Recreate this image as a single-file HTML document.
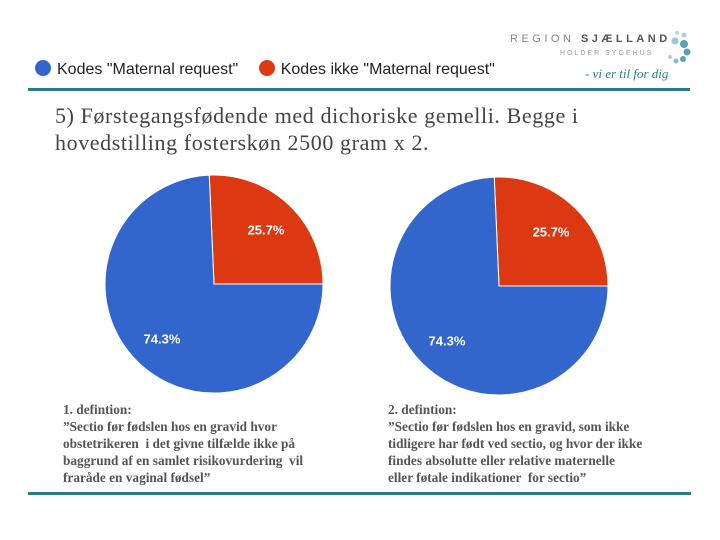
<!DOCTYPE html>
<html><head><meta charset="utf-8">
<style>
body{margin:0;width:720px;height:540px;background:#fff;overflow:hidden;position:relative;font-family:"Liberation Sans",sans-serif;}
.abs{position:absolute;}
.title{left:55px;top:102px;font-family:"Liberation Serif",serif;font-size:22px;letter-spacing:0.6px;line-height:27px;color:#444;white-space:nowrap;}
.def{font-family:"Liberation Serif",serif;font-weight:bold;font-size:13.3px;line-height:17px;color:#555;white-space:nowrap;}
</style></head><body>
<div class="abs" style="left:510px;top:30px;width:200px;height:60px;">
  <div style="position:absolute;left:0;top:3px;font-size:11px;letter-spacing:3.5px;color:#888;">REGION <b style="color:#555">SJÆLLAND</b></div>
  <div style="position:absolute;left:50px;top:20px;font-size:7px;letter-spacing:2px;color:#999;">HOLDER SYGEHUS</div>
  <div style="position:absolute;left:75px;top:36px;font-family:'Liberation Serif',serif;font-style:italic;font-size:13px;color:#2a7f8a;">- vi er til for dig</div>
  <svg style="position:absolute;left:155px;top:0" width="40" height="40"><g fill="#5aa0b8"><circle cx="12" cy="3" r="2" opacity=".4"/><circle cx="19" cy="5" r="2.5" opacity=".5"/><circle cx="10" cy="11" r="3.5" opacity=".6"/><circle cx="19" cy="14" r="4"/><circle cx="22" cy="22" r="3.5"/><circle cx="18" cy="29" r="3"/><circle cx="11" cy="31" r="2.5" opacity=".7"/><circle cx="5" cy="27" r="2" opacity=".5"/></g></svg>
</div>
<div class="abs" style="left:35px;top:60px;font-size:16px;color:#222;white-space:nowrap;">
  <span><span style="display:inline-block;width:16px;height:16px;border-radius:50%;background:#3366cc;vertical-align:-2px;margin-right:6px"></span>Kodes "Maternal request"</span>
  <span style="margin-left:16px"><span style="display:inline-block;width:16px;height:16px;border-radius:50%;background:#dc3912;vertical-align:-2px;margin-right:6px"></span>Kodes ikke "Maternal request"</span>
</div>
<div class="abs" style="left:28px;top:88px;width:662px;height:3px;background:#2a7a86"></div>
<div class="abs title">5) Førstegangsfødende med dichoriske gemelli. Begge i<br>hovedstilling fosterskøn 2500 gram x 2.</div>
<svg class="abs" style="left:0;top:0" width="720" height="540" id="charts"></svg>
<div class="abs def" style="left:63px;top:401px;">1. defintion:<br>”Sectio før fødslen hos en gravid hvor<br>obstetrikeren &nbsp;i det givne tilfælde ikke på<br>baggrund af en samlet risikovurdering &nbsp;vil<br>fraråde en vaginal fødsel”</div>
<div class="abs def" style="left:388px;top:401px;">2. defintion:<br>”Sectio før fødslen hos en gravid, som ikke<br>tidligere har født ved sectio, og hvor der ikke<br>findes absolutte eller relative maternelle<br>eller føtale indikationer &nbsp;for sectio”</div>
<div class="abs" style="left:28px;top:492px;width:663px;height:3px;background:#2a7a86"></div>
<script>
const categories = ["Kodes ikke \"Maternal request\"", "Kodes \"Maternal request\""];
const pie1Values = [25.7, 74.3];
const pie2Values = [25.7, 74.3];
const colors = ["#dc3912", "#3366cc"];
const startDeg = -2.5;
const pies = [{cx:214, cy:284, r:109, vals:pie1Values}, {cx:499, cy:286, r:109, vals:pie2Values}];
const svg = document.getElementById('charts');
const NS = "http://www.w3.org/2000/svg";
pies.forEach((p, pi) => {
  const total = p.vals.reduce((a,b)=>a+b, 0);
  const off = startDeg*Math.PI/180;
  let start = 0;
  p.vals.forEach((v, i) => {
    const a0 = off + start / total * 2*Math.PI, a1 = off + (start+v)/total*2*Math.PI;
    const x0 = p.cx + p.r*Math.sin(a0), y0 = p.cy - p.r*Math.cos(a0);
    const x1 = p.cx + p.r*Math.sin(a1), y1 = p.cy - p.r*Math.cos(a1);
    const large = (a1-a0) > Math.PI ? 1 : 0;
    const path = document.createElementNS(NS, 'path');
    path.setAttribute('d', `M${p.cx},${p.cy} L${x0},${y0} A${p.r},${p.r} 0 ${large} 1 ${x1},${y1} Z`);
    path.setAttribute('fill', colors[i]);
    path.setAttribute('stroke', '#fff');
    path.setAttribute('stroke-width', '1');
    
    
    svg.appendChild(path);
    const am = (a0+a1)/2, lr = p.r*0.69;
    const t = document.createElementNS(NS, 'text');
    t.setAttribute('x', p.cx + lr*Math.sin(am));
    t.setAttribute('y', p.cy - lr*Math.cos(am) + 5);
    t.setAttribute('text-anchor', 'middle');
    t.setAttribute('fill', '#fff');
    t.setAttribute('font-size', '13');
    t.setAttribute('font-weight', 'bold');
    t.setAttribute('font-family', 'Liberation Sans, sans-serif');
    t.textContent = v.toFixed(1) + '%';
    
    
    svg.appendChild(t);
    start += v;
  });
});
</script>
</body></html>
